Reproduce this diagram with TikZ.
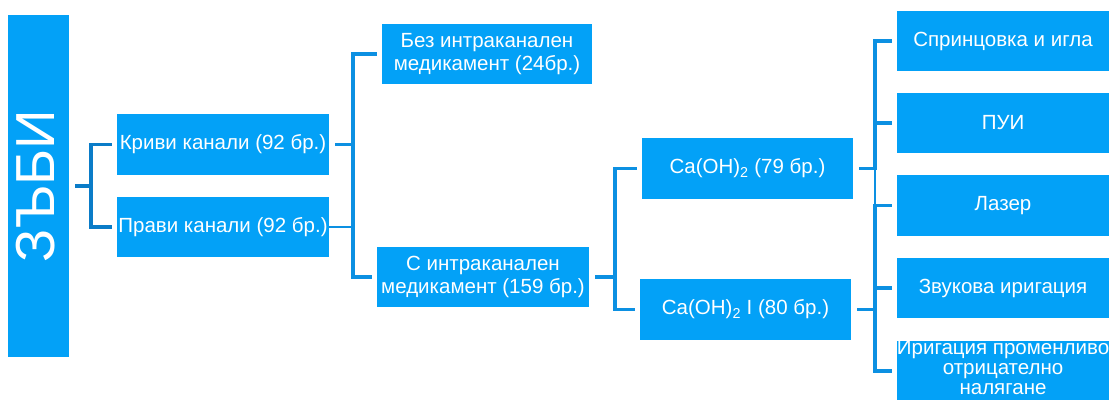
\documentclass[tikz,border=0pt]{standalone}
\usepackage{fontspec}
\setmainfont{Liberation Sans}
\definecolor{boxblue}{RGB}{3,161,247}
\definecolor{lineblue}{RGB}{12,144,226}
\definecolor{linedark}{RGB}{10,124,200}
\tikzset{
  box/.style={fill=boxblue, draw=none, inner sep=0pt, minimum width=212pt, minimum height=60pt,
    text=white, font=\fontsize{20.5}{23}\selectfont, align=center},
  conn/.style={draw=lineblue, line width=3.6pt, shorten >=5pt},
  thinconn/.style={draw=lineblue, line width=1.4pt},
}
\begin{document}
\begin{tikzpicture}[x=1pt, y=-1pt]
\useasboundingbox (0,0) rectangle (1110,399);
\clip (0,0) rectangle (1110,399);
% nodes
\node[box, minimum width=61pt, minimum height=342pt] (root) at (38.5,186) {};
\node[text=white, font=\fontsize{55}{55}\selectfont, rotate=90, inner sep=0pt] (roott) at (36,186) {ЗЪБИ};
\node[box, minimum height=61pt] (kriv) at (223,144.5) {Криви канали (92 бр.)};
\node[box] (prav) at (223,227) {Прави канали (92 бр.)};
\node[box, minimum width=210pt] (bez) at (487,54) {Без интраканален\\медикамент (24бр.)};
\node[box] (sint) at (483,277) {С интраканален\\медикамент (159 бр.)};
\node[box, minimum width=211pt, minimum height=61pt] (ca1) at (747.5,168.5) {Ca(OH)\textsubscript{2} (79 бр.)};
\node[box, minimum width=211pt, minimum height=61pt] (ca2) at (745.5,309.5) {Ca(OH)\textsubscript{2} I (80 бр.)};
\node[box] (r1) at (1003,41) {Спринцовка и игла};
\node[box] (r2) at (1003,123) {ПУИ};
\node[box, minimum height=61pt] (r3) at (1003,205.5) {Лазер};
\node[box] (r4) at (1003,288) {Звукова иригация};
\node[box] (r5) at (1003,371) {};
\node[text=white, font=\fontsize{20.5}{20}\selectfont, align=center, inner sep=0pt] (r5t) at (1003,368) {Иригация променливо\\отрицателно\\налягане};
% spines
\coordinate (s1) at (91,0);
\coordinate (s2) at (353,0);
\coordinate (s3) at (615,0);
\coordinate (s4) at (875,0);
% bracket 1
\draw[conn, draw=linedark, shorten <=6pt] (root.east) -- (root.east -| s1) |- (kriv.west);
\draw[conn, draw=linedark] (root.east -| s1) |- (prav.west);
% bracket 2
\draw[conn, shorten <=6pt] (kriv.east) -- (kriv.east -| s2) |- (bez.west);
\draw[conn] (kriv.east -| s2) |- (sint.west);
\draw[thinconn] (prav.east) -- (prav.east -| s2);
% bracket 3
\draw[conn, shorten <=6pt] (sint.east) -- (sint.east -| s3) |- (ca1.west);
\draw[conn] (sint.east -| s3) |- (ca2.west);
% bracket 4
\draw[conn, shorten <=6pt] (ca1.east) -- (ca1.east -| s4) |- (r1.west);
\draw[conn] (ca1.east -| s4) |- (r2.west);
\draw[thinconn] (ca1.east -| s4) -- (r3.west -| s4);
\draw[conn, shorten <=6pt] (ca2.east) -- (ca2.east -| s4) |- (r3.west);
\draw[conn] (ca2.east -| s4) |- (r4.west);
\draw[conn] (ca2.east -| s4) |- (r5.west);
\end{tikzpicture}
\end{document}
